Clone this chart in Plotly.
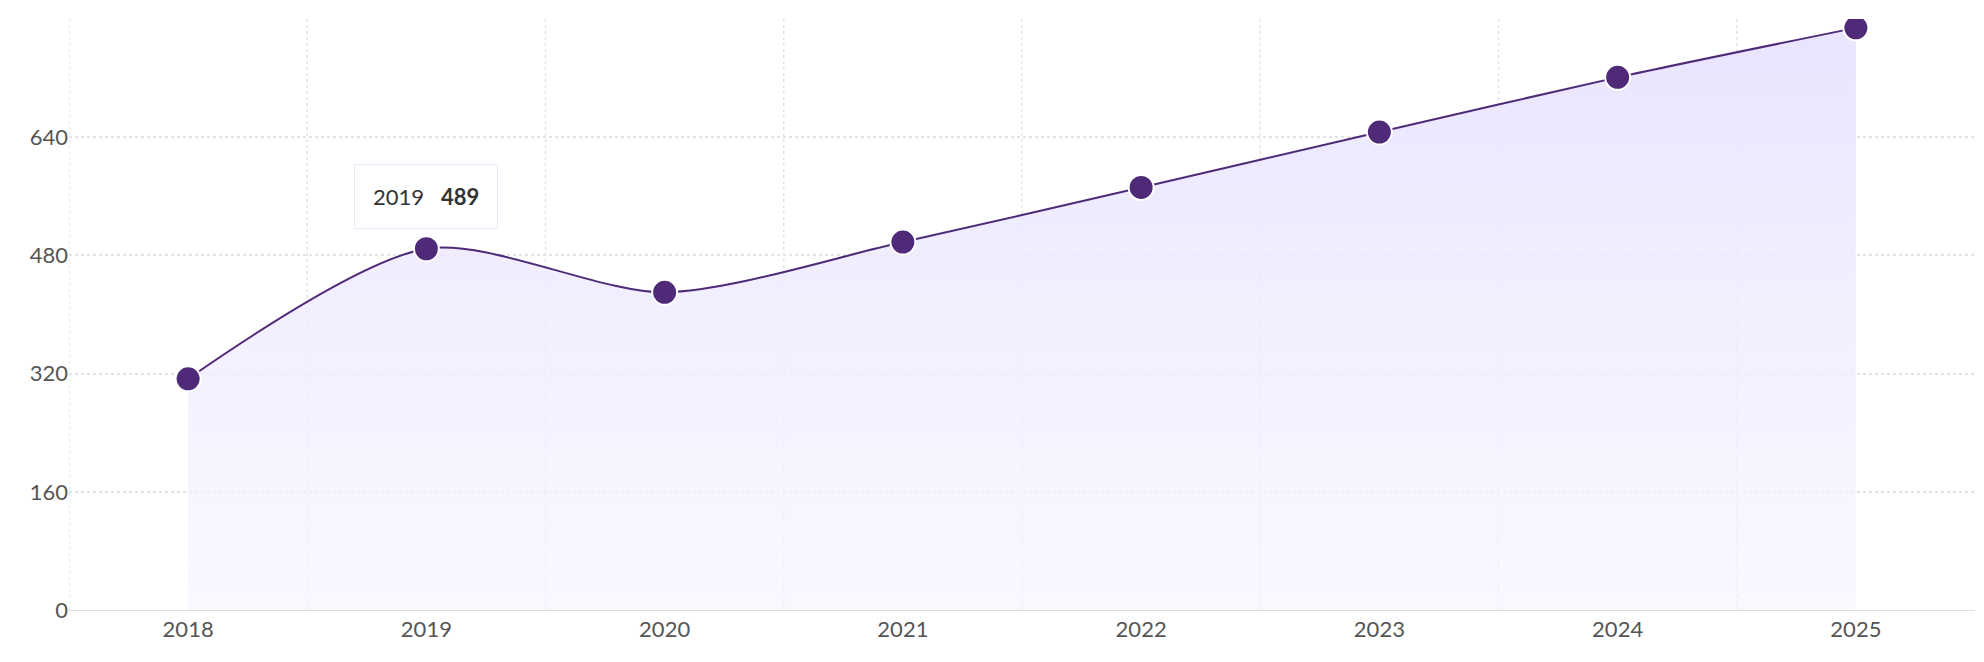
import plotly.graph_objects as go

# chart data
years = ["2018", "2019", "2020", "2021", "2022", "2023", "2024", "2025"]
values = [313, 489, 430, 498, 572, 647, 721, 788]
y_ticks = [0, 160, 320, 480, 640, 800]

fig = go.Figure()

fig.add_trace(go.Scatter(
    x=years, y=values, mode="lines+markers",
    line=dict(color="#4f2a78", width=2, shape="spline", smoothing=0.8),
    marker=dict(size=25, color="#4f2a78", line=dict(color="white", width=2)),
    fill="tozeroy",
    fillgradient=dict(type="vertical",
                      colorscale=[[0, "rgba(247,245,255,0.7)"], [1, "rgba(232,227,255,0.95)"]]),
    hoverinfo="skip", showlegend=False,
))

# fake tooltip for 2019
fig.add_annotation(
    x=1, y=560, xref="x", yref="y", text="2019   <b>489</b>", showarrow=False,
    font=dict(family="Lato", size=22, color="#333"),
    bgcolor="white", bordercolor="#ebe8fb", borderwidth=1, borderpad=18,
)

fig.update_layout(
    width=1984, height=662, paper_bgcolor="white", plot_bgcolor="white",
    margin=dict(l=61, r=17, t=11, b=60),
    font=dict(family="Lato", size=22, color="#555"),
    xaxis=dict(type="category", range=[-0.5, 7.5], showline=True, linecolor="#dddddd",
               ticks="", showgrid=False, zeroline=False),
    yaxis=dict(range=[0, 800], tickvals=y_ticks, zeroline=False, ticks="",
               showgrid=True, gridcolor="#e3e3e6", griddash="dot", gridwidth=1.5),
)
fig.update_yaxes(automargin=False)
# vertical dotted grid between categories
for i in range(8):
    fig.add_vline(x=i - 0.5, line=dict(color="#e3e3e6", width=1.5, dash="dot"), layer="below")

fig.write_html("out.html")
